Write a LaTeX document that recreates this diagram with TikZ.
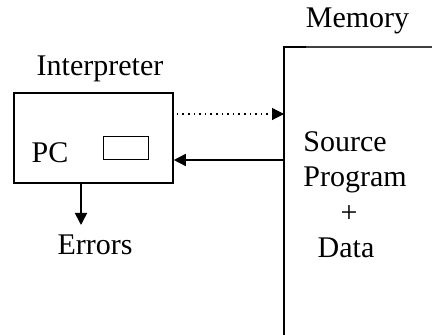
\documentclass[tikz,border=0pt]{standalone}
\usepackage{fontspec}
\setmainfont{Liberation Serif}
\usetikzlibrary{arrows.meta}
\tikzset{
  px/.style={x=0.5pt,y=-0.5pt},
  frame/.style={draw=black,line width=0.9pt},
  lbl/.style={inner sep=0pt,font=\fontsize{15}{18}\selectfont,anchor=base},
  link/.style={line width=0.8pt,-{Triangle[length=6pt,width=6pt]}},
}
\begin{document}
\begin{tikzpicture}[px]
\useasboundingbox (0,0) rectangle (432,335);
% interpreter box and its register
\node[frame,minimum width=79.5pt,minimum height=45pt,inner sep=0pt,anchor=north west] (interp) at (13,92) {};
\node[frame,line width=0.7pt,minimum width=22.5pt,minimum height=11.5pt,inner sep=0pt,anchor=north west] (reg) at (103,136) {};
\node[lbl] (pc) at (50,163) {PC};
\node[lbl] (ititle) at (100,76) {Interpreter};
% memory: open box running off the page
\coordinate (mtl) at (284,47);
\coordinate (mtr) at (432,47);
\coordinate (mbl) at (284,335);
\draw[line width=0.9pt] (mbl) -- (mtl) -- (mtl -| 306,0);
\draw[line width=0.6pt,black!75] (mtl -| 306,0) -- (mtr);
\node[lbl] (mtitle) at (357.5,28) {Memory};
\node[lbl] (src) at (345,152) {Source};
\node[lbl] (prog) at (355,187) {Program};
\node[lbl] (plus) at (349,223) {+};
\node[lbl] (data) at (346,258) {Data};
\coordinate (memtop) at (284,114);
\coordinate (membot) at (284,160);
% connectors
\draw[link,dotted,line width=0.6pt] (interp.east |- memtop) ++(3,0) coordinate (dstart) -- (memtop);
\draw[link] (membot) -- (interp.east |- membot);
\node[lbl] (err) at (95,255) {Errors};
\draw[link] (interp.south -| 81,0) -- (81,225);
\end{tikzpicture}
\end{document}
